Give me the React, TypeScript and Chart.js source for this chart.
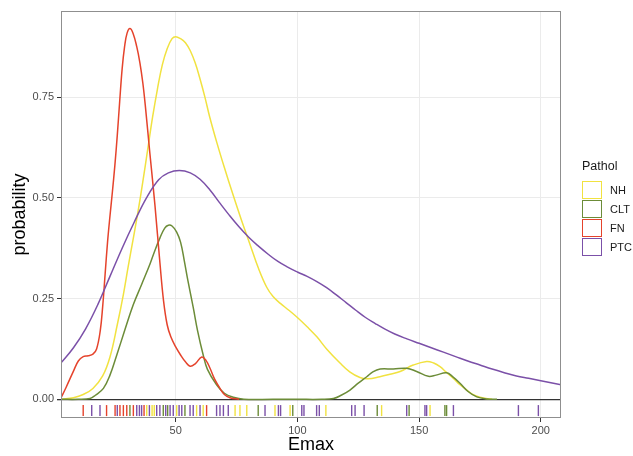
import React, { useEffect, useRef } from "react";
import { Chart, registerables } from "chart.js";
Chart.register(...registerables);

const SERIES = ["NH", "CLT", "FN", "PTC"];
const COLORS = ["#f1e240", "#6c8c38", "#e5432c", "#7b50a8"];

const X_TICKS = [50, 100, 150, 200];
const Y_TICKS = [0, 0.25, 0.5, 0.75];

// density curves
const NH_X = [3, 8, 12, 16, 20, 23, 26, 28.5, 30.5, 32.6, 34.5, 36.5, 38.5, 40.5, 42.5, 44.5, 46.5, 48.5, 50, 52, 54, 56, 58, 60, 62, 64, 67, 70, 73.7, 77, 80.5, 84, 87.4, 90, 93, 96.5, 100, 104, 108, 112, 117.5, 121.5, 125.7, 129, 133.9, 138, 142.2, 147.6, 153.1, 156, 158.6, 161, 164.1, 166.8, 169.6, 172, 175, 180];
const NH_Y = [0.0, 0.004, 0.012, 0.027, 0.058, 0.105, 0.185, 0.26, 0.33, 0.4, 0.465, 0.54, 0.62, 0.7, 0.77, 0.83, 0.87, 0.895, 0.9, 0.895, 0.885, 0.865, 0.835, 0.795, 0.75, 0.7, 0.635, 0.575, 0.505, 0.445, 0.385, 0.325, 0.278, 0.255, 0.238, 0.221, 0.203, 0.18, 0.155, 0.125, 0.09, 0.068, 0.054, 0.051, 0.056, 0.062, 0.069, 0.085, 0.094, 0.09, 0.081, 0.068, 0.052, 0.036, 0.023, 0.012, 0.005, 0.0];

const CLT_X = [3, 10, 14.8, 17, 20.3, 23, 25.8, 29, 32.6, 36, 39.4, 41.5, 43.5, 45.5, 47, 48.5, 50.4, 52, 53.5, 55, 57.2, 59, 61.3, 63, 66.8, 70, 73.7, 78, 90, 100, 110, 114.8, 118, 121.6, 125, 128.5, 131, 134, 139.4, 144.9, 149, 153.8, 157, 161.3, 164, 166.8, 170, 173.7, 178, 182];
const CLT_Y = [0.0, 0.0, 0.002, 0.01, 0.027, 0.06, 0.11, 0.17, 0.235, 0.285, 0.335, 0.37, 0.4, 0.425, 0.432, 0.43, 0.415, 0.39, 0.345, 0.295, 0.228, 0.17, 0.11, 0.075, 0.036, 0.015, 0.005, 0.0, 0.0, 0.0, 0.0, 0.002, 0.01, 0.023, 0.04, 0.056, 0.068, 0.075, 0.075, 0.077, 0.069, 0.057, 0.06, 0.066, 0.055, 0.04, 0.02, 0.006, 0.001, 0.0];

const FN_X = [3, 5, 8, 10, 12, 14, 16, 17.5, 19, 20, 21, 22, 23, 24, 25, 26, 27, 28, 29, 30, 31.2, 32.5, 34, 35.3, 36.5, 37.5, 39.4, 41.5, 43.5, 45, 46.5, 48, 50, 52, 54, 55.9, 58, 60.7, 62.5, 64.1, 66, 68.2, 70, 72.3, 76];
const FN_Y = [0.005, 0.03, 0.07, 0.095, 0.106, 0.108, 0.112, 0.125, 0.17, 0.23, 0.31, 0.39, 0.455, 0.515, 0.58, 0.655, 0.74, 0.82, 0.875, 0.908, 0.92, 0.908, 0.875, 0.835, 0.785, 0.73, 0.61, 0.48, 0.34, 0.245, 0.185, 0.155, 0.13, 0.11, 0.093, 0.082, 0.088, 0.105, 0.096, 0.077, 0.05, 0.027, 0.012, 0.004, 0.0];

const PTC_X = [3, 8, 13, 18, 23, 28, 33, 38, 43, 47, 51.5, 56, 60, 64, 68, 72, 76, 80, 84, 88, 92, 96, 100, 104, 108, 112, 116, 120, 124, 128, 132, 136, 140, 145, 150, 155, 160, 165, 170, 175, 180, 185, 190, 195, 200, 208.3];
const PTC_Y = [0.091, 0.128, 0.175, 0.235, 0.305, 0.375, 0.44, 0.5, 0.545, 0.562, 0.568, 0.562, 0.546, 0.52, 0.488, 0.457, 0.428, 0.402, 0.38, 0.36, 0.342, 0.328, 0.316, 0.305, 0.292, 0.277, 0.259, 0.24, 0.221, 0.203, 0.188, 0.174, 0.162, 0.15, 0.139, 0.128, 0.117, 0.106, 0.095, 0.085, 0.075, 0.066, 0.058, 0.052, 0.046, 0.036];

// rug observations
const NH_RUG = [38.1, 40.3, 41.2, 50.4, 58.6, 61.3, 74.4, 76.4, 79.2, 90.8, 97.0, 111.7, 134.6, 154.5];
const CLT_RUG = [31.2, 44.9, 46.7, 53.8, 83.9, 98.1, 132.8, 145.9, 160.6, 161.3];
const FN_RUG = [12.0, 21.6, 25.1, 27.1, 28.5, 29.9, 32.6, 37.0, 62.7];
const PTC_RUG = [15.5, 18.9, 26.0, 34.0, 35.1, 36.0, 39.2, 42.2, 43.5, 45.9, 47.7, 49.0, 51.4, 52.5, 55.9, 57.2, 60.0, 66.8, 68.2, 69.6, 71.6, 86.7, 92.2, 93.1, 101.8, 102.7, 107.9, 109.0, 122.3, 123.7, 127.4, 144.9, 152.4, 153.1, 164.1, 190.8, 199.0];

const CURVES = [
  [NH_X, NH_Y],
  [CLT_X, CLT_Y],
  [FN_X, FN_Y],
  [PTC_X, PTC_Y],
];
const RUGS = [NH_RUG, CLT_RUG, FN_RUG, PTC_RUG];

const FONT = "'Liberation Sans', Arial, Helvetica, sans-serif";

const panelBorder = {
  id: "panelBorder",
  afterDraw(chart: any) {
    const { ctx, chartArea } = chart;
    const { left, top, right, bottom } = chartArea;
    ctx.save();
    ctx.strokeStyle = "#8f8f8f";
    ctx.lineWidth = 1;
    ctx.strokeRect(left + 0.5, top + 0.5, right - left - 1, bottom - top - 1);
    ctx.restore();
  },
};

export default function App() {
  const ref = useRef<HTMLCanvasElement | null>(null);

  useEffect(() => {
    if (!ref.current) return;
    const datasets: any[] = [];
    CURVES.forEach(([xs, ys], i) => {
      datasets.push({
        type: "line",
        label: SERIES[i],
        data: xs.map((x, k) => ({ x, y: ys[k] })),
        borderColor: COLORS[i],
        borderWidth: 1.5,
        pointRadius: 0,
        fill: false,
        tension: 0.4,
        order: 3 - i + 4,
      });
    });
    RUGS.forEach((vals, i) => {
      datasets.push({
        type: "scatter",
        label: SERIES[i] + " rug",
        data: vals.map((x) => ({ x, y: -0.028 })),
        pointStyle: "line",
        rotation: 90,
        pointRadius: 5.5,
        borderColor: COLORS[i],
        backgroundColor: COLORS[i],
        borderWidth: 1.4,
        order: 3 - i,
      });
    });

    const chart = new Chart(ref.current, {
      type: "line",
      data: { datasets },
      plugins: [panelBorder],
      options: {
        animation: false,
        responsive: false,
        devicePixelRatio: 1,
        layout: { padding: { top: 11, right: 72, left: 0, bottom: 0 } },
        plugins: { legend: { display: false }, tooltip: { enabled: false } },
        scales: {
          x: {
            type: "linear",
            min: 2.88,
            max: 208.3,
            afterBuildTicks: (s: any) => {
              s.ticks = X_TICKS.map((v) => ({ value: v }));
            },
            afterFit: (s: any) => {
              s.height = 38;
            },
            grid: {
              color: "#ebebeb",
              lineWidth: 1,
              drawTicks: true,
              tickLength: 4,
              tickColor: "#333333",
            },
            border: { display: false },
            ticks: {
              color: "#4d4d4d",
              font: { family: FONT, size: 11 },
              padding: 2,
              maxRotation: 0,
              callback: (v: any) => String(v),
            },
            title: {
              display: true,
              text: "Emax",
              color: "#000",
              font: { family: FONT, size: 18 },
              padding: { top: 0, bottom: 0 },
            },
          },
          y: {
            type: "linear",
            min: -0.0464,
            max: 0.9636,
            afterBuildTicks: (s: any) => {
              s.ticks = Y_TICKS.map((v) => ({ value: v }));
            },
            afterFit: (s: any) => {
              s.width = 61;
            },
            grid: {
              color: (c: any) => (c.tick && c.tick.value === 0 ? "#333333" : "#ebebeb"),
              lineWidth: (c: any) => (c.tick && c.tick.value === 0 ? 1.3 : 1),
              drawTicks: true,
              tickLength: 4,
              tickColor: "#333333",
            },
            border: { display: false },
            ticks: {
              color: "#4d4d4d",
              font: { family: FONT, size: 11 },
              padding: 3,
              callback: (v: any) => Number(v).toFixed(2),
            },
            title: {
              display: true,
              text: "probability",
              color: "#000",
              font: { family: FONT, size: 18 },
              padding: { top: 9, bottom: 0 },
            },
          },
        },
      },
    } as any);
    return () => chart.destroy();
  }, []);

  return (
    <div style={{ position: "fixed", left: 0, top: 0, width: 633, height: 456, background: "#fff" }}>
      <canvas ref={ref} width={633} height={456} style={{ display: "block", width: 633, height: 456 }} />
      <div style={{ position: "absolute", left: 582, top: 158, fontFamily: FONT, color: "#1a1a1a" }}>
        <div style={{ fontSize: 12.5, lineHeight: "16px", height: 22 }}>Pathol</div>
        {SERIES.map((s, i) => (
          <div key={s} style={{ display: "flex", alignItems: "center", height: 19 }}>
            <div
              style={{
                width: 18,
                height: 16,
                border: `1.5px solid ${COLORS[i]}`,
                background: "#fff",
                boxSizing: "content-box",
              }}
            />
            <span style={{ marginLeft: 8, fontSize: 11, color: "#1a1a1a" }}>{s}</span>
          </div>
        ))}
      </div>
    </div>
  );
}
